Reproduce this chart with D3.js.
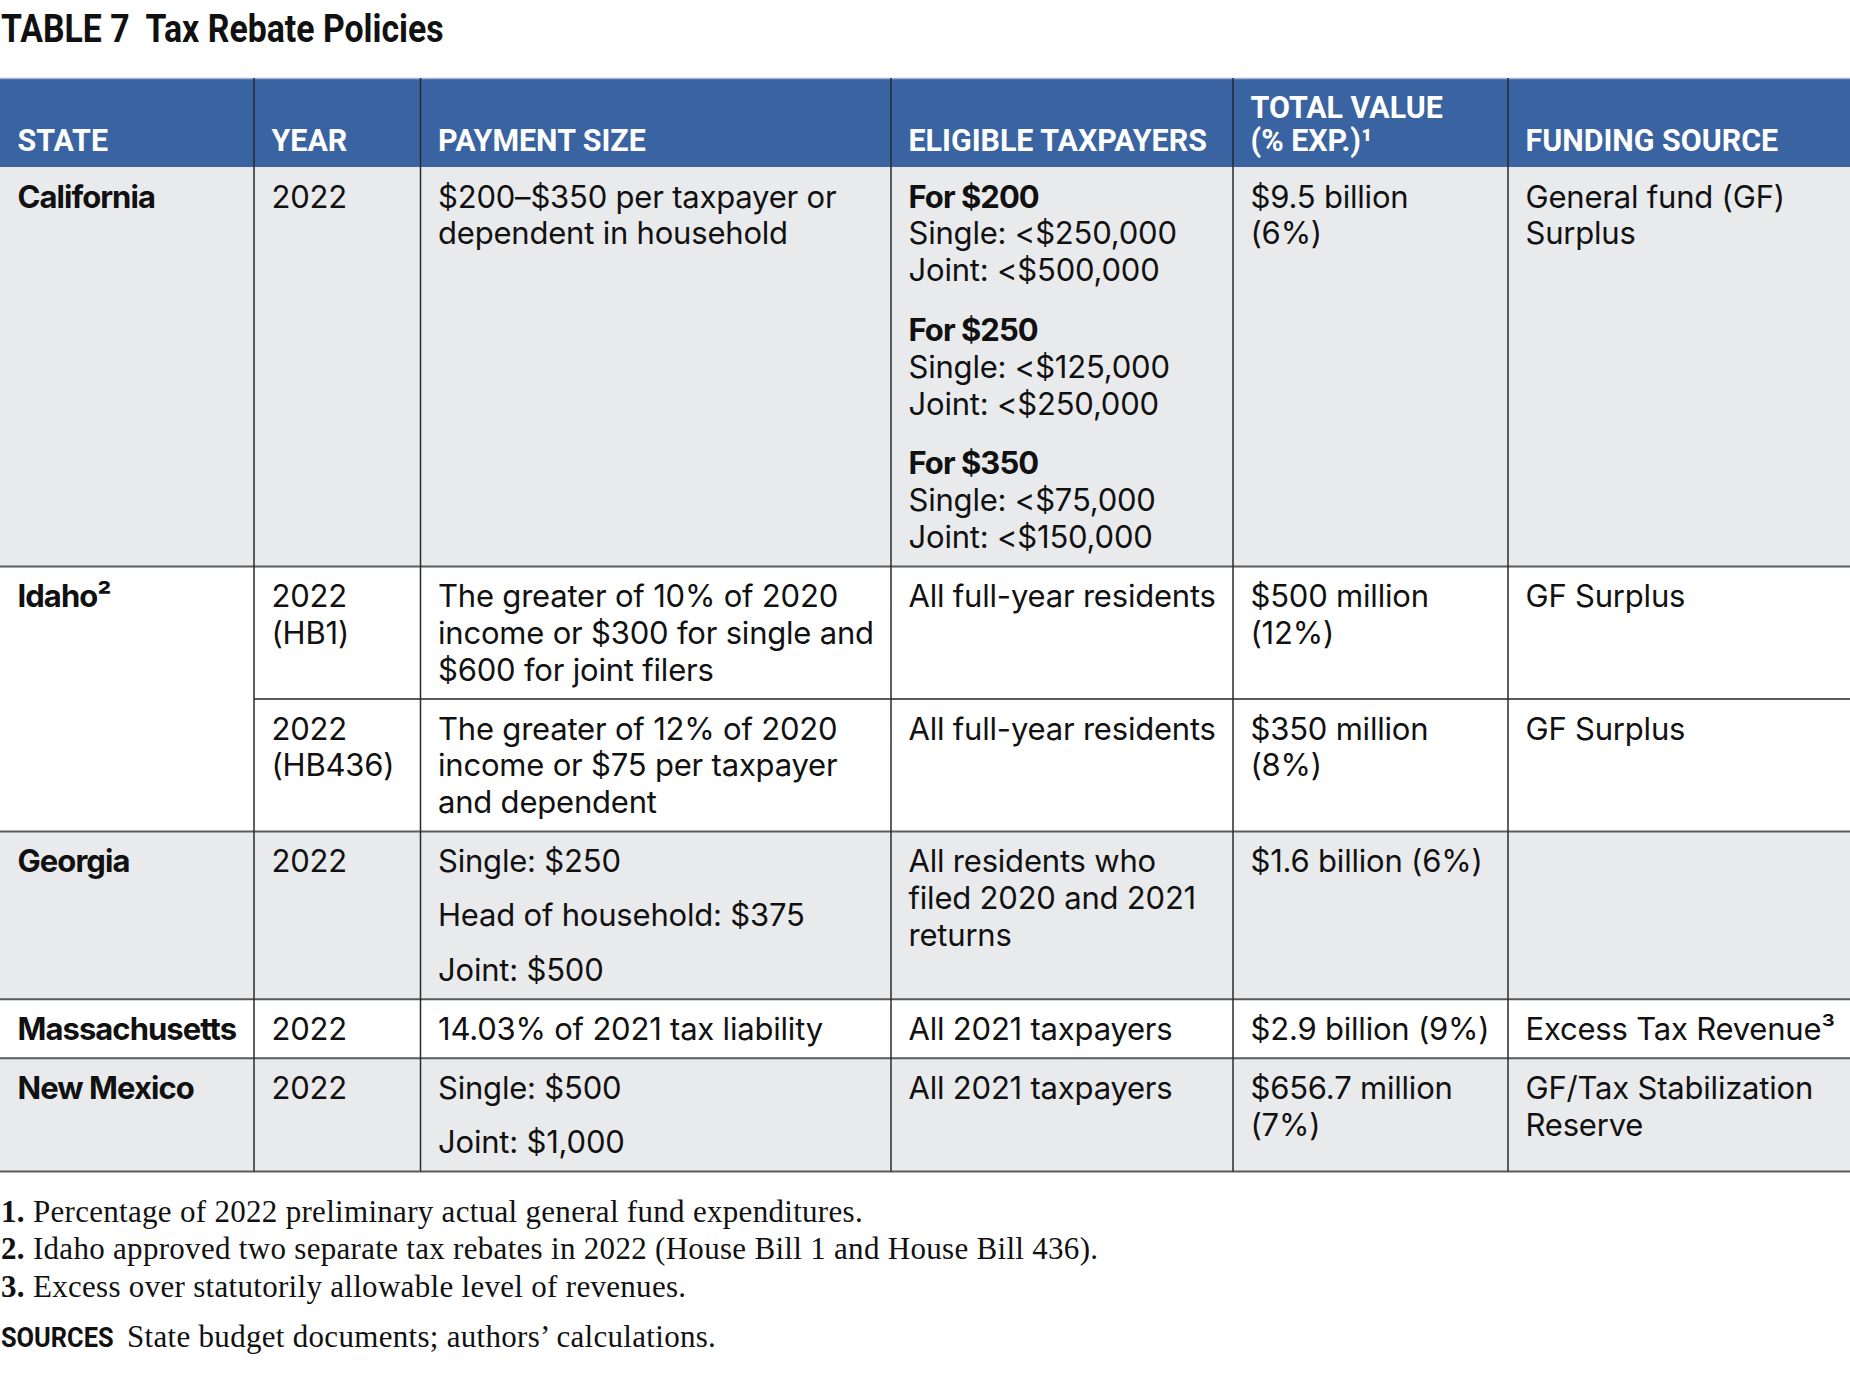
<!DOCTYPE html>
<html><head><meta charset="utf-8">
<script src="https://cdn.jsdelivr.net/npm/d3@7"></script>
<style>
html,body{margin:0;padding:0;background:#fff;}
svg{display:block;}
text{white-space:pre;}
</style></head>
<body><svg id="chart" width="1850" height="1374"></svg>
<script>
// ---------------- DATA ----------------
const titleLabel = "TABLE 7";
const titleText = "Tax Rebate Policies";
const columnKeys = ["state","year","payment","eligible","total","funding"];
const headerLabels = [["STATE"],["YEAR"],["PAYMENT SIZE"],["ELIGIBLE TAXPAYERS"],["TOTAL VALUE","(% EXP.)¹"],["FUNDING SOURCE"]];

// one entry per table sub-row; consecutive equal states are merged
const entryStates = ["California","Idaho²","Idaho²","Georgia","Massachusetts","New Mexico"];
// each cell = list of paragraphs, each paragraph = list of lines ("**" = bold line)
const entryYears = [
  [["2022"]],
  [["2022","(HB1)"]],
  [["2022","(HB436)"]],
  [["2022"]],
  [["2022"]],
  [["2022"]]
];
const entryPayments = [
  [["$200–$350 per taxpayer or","dependent in household"]],
  [["The greater of 10% of 2020","income or $300 for single and","$600 for joint filers"]],
  [["The greater of 12% of 2020","income or $75 per taxpayer","and dependent"]],
  [["Single: $250"],["Head of household: $375"],["Joint: $500"]],
  [["14.03% of 2021 tax liability"]],
  [["Single: $500"],["Joint: $1,000"]]
];
const entryEligible = [
  [["**For $200","Single: <$250,000","Joint: <$500,000"],
   ["**For $250","Single: <$125,000","Joint: <$250,000"],
   ["**For $350","Single: <$75,000","Joint: <$150,000"]],
  [["All full-year residents"]],
  [["All full-year residents"]],
  [["All residents who","filed 2020 and 2021","returns"]],
  [["All 2021 taxpayers"]],
  [["All 2021 taxpayers"]]
];
const entryTotals = [
  [["$9.5 billion","(6%)"]],
  [["$500 million","(12%)"]],
  [["$350 million","(8%)"]],
  [["$1.6 billion (6%)"]],
  [["$2.9 billion (9%)"]],
  [["$656.7 million","(7%)"]]
];
const entryFunding = [
  [["General fund (GF)","Surplus"]],
  [["GF Surplus"]],
  [["GF Surplus"]],
  [],
  [["Excess Tax Revenue³"]],
  [["GF/Tax Stabilization","Reserve"]]
];
const footnoteNumbers = ["1.","2.","3."];
const footnoteTexts = [
  "Percentage of 2022 preliminary actual general fund expenditures.",
  "Idaho approved two separate tax rebates in 2022 (House Bill 1 and House Bill 436).",
  "Excess over statutorily allowable level of revenues."
];
const sourcesLabel = "SOURCES";
const sourcesText = "State budget documents; authors’ calculations.";

// ---------------- LAYOUT / STYLE ----------------
const W = 1850;
const colLefts = [0, 254, 420.5, 891, 1233, 1508];
const PAD_X = 17.5;
const HEADER_TOP = 78, HEADER_BOTTOM = 167;
const LH = 36.8, GAP_SINGLE = 17.5, GAP_BLOCK = 23;
const ROW_TOP = 40.5, ROW_BOTTOM = 18.5;
const BLUE = "#3a63a1", GREY = "#e9eaec";
const BODY_FONT = "Inter, 'Noto Sans', sans-serif";
const COND_FONT = "Roboto, 'Liberation Sans', sans-serif";
const SERIF_FONT = "'Liberation Serif', 'DejaVu Serif', serif";

const svg = d3.select("#chart");
const x = d3.scaleOrdinal().domain(columnKeys).range(colLefts);

const cellCols = {year: entryYears, payment: entryPayments, eligible: entryEligible, total: entryTotals, funding: entryFunding};

function layoutCell(cell) {
  const out = []; let y = 0;
  cell.forEach((p, i) => {
    if (i > 0) y += LH + (cell[i-1].length > 1 ? GAP_BLOCK : GAP_SINGLE);
    p.forEach((line, j) => {
      if (j > 0) y += LH;
      const bold = line.startsWith("**");
      out.push({t: bold ? line.slice(2) : line, y, bold});
    });
  });
  return out;
}

const entries = entryStates.map((s, i) => {
  const cells = {};
  let span = 0;
  Object.keys(cellCols).forEach(k => {
    cells[k] = layoutCell(cellCols[k][i]);
    if (cells[k].length) span = Math.max(span, cells[k][cells[k].length-1].y);
  });
  return {state: s, cells, h: ROW_TOP + span + ROW_BOTTOM};
});
let acc = HEADER_BOTTOM;
entries.forEach(e => { e.top = acc; acc += e.h; e.bottom = acc; });
const tableBottom = acc;
const yRow = d3.scaleOrdinal().domain(d3.range(entries.length)).range(entries.map(e => e.top));

// state groups
const groups = [];
entries.forEach((e, i) => {
  const g = groups[groups.length-1];
  if (g && g.state === e.state) { g.last = i; }
  else groups.push({state: e.state, first: i, last: i});
});

// ---- title
const tt = svg.append("text").attr("transform", "translate(1,42) scale(0.89,1)")
  .attr("font-family", COND_FONT).attr("font-weight", 700).attr("font-size", 38).attr("fill", "#111");
tt.append("tspan").text(titleLabel + "  " + titleText);

// ---- row bands
svg.append("g").selectAll("rect").data(groups).join("rect")
  .attr("x", 0).attr("width", W)
  .attr("y", g => yRow(g.first))
  .attr("height", g => entries[g.last].bottom - yRow(g.first))
  .attr("fill", (g, i) => i % 2 === 0 ? GREY : "#ffffff");

// ---- header
svg.append("rect").attr("x", 0).attr("y", HEADER_TOP).attr("width", W)
  .attr("height", HEADER_BOTTOM - HEADER_TOP).attr("fill", BLUE);
svg.append("line").attr("x1", 0).attr("x2", W).attr("y1", HEADER_TOP + 0.5).attr("y2", HEADER_TOP + 0.5)
  .attr("stroke", "#a3b3cf").attr("stroke-width", 1.5);
const hg = svg.append("g");
headerLabels.forEach((lines, c) => {
  lines.forEach((ln, j) => {
    const yb = HEADER_BOTTOM - 16 - (lines.length - 1 - j) * 33.5;
    hg.append("text")
      .attr("transform", `translate(${x(columnKeys[c]) + PAD_X},${yb}) scale(0.95,1)`)
      .attr("font-family", COND_FONT).attr("font-weight", 700).attr("font-size", 32)
      .attr("fill", "#fff").text(ln);
  });
});

// ---- horizontal rules
svg.append("g").selectAll("line").data(entries).join("line")
  .attr("x1", (e, i) => (i + 1 < entries.length && entries[i+1].state === e.state) ? x("year") : 0)
  .attr("x2", W)
  .attr("y1", e => e.bottom).attr("y2", e => e.bottom)
  .attr("stroke", "#5b5b5b").attr("stroke-width", 2);

// ---- vertical rules
svg.append("g").selectAll("line").data(columnKeys.slice(1)).join("line")
  .attr("x1", k => x(k)).attr("x2", k => x(k))
  .attr("y1", HEADER_TOP).attr("y2", tableBottom)
  .attr("stroke", "#2a2a2a").attr("stroke-width", 1.5);

// ---- cell text
const tg = svg.append("g").attr("font-family", BODY_FONT).attr("font-size", 31).attr("fill", "#111");
function drawLine(xx, yy, t, bold) {
  tg.append("text").attr("x", xx).attr("y", yy)
    .attr("font-weight", bold ? 700 : 400)
    .attr("letter-spacing", bold ? -0.95 : -0.2)
    .text(t);
}
groups.forEach(g => {
  drawLine(x("state") + PAD_X, yRow(g.first) + ROW_TOP, g.state, true);
});
entries.forEach((e, i) => {
  Object.keys(cellCols).forEach(k => {
    e.cells[k].forEach(l => drawLine(x(k) + PAD_X, yRow(i) + ROW_TOP + l.y, l.t, l.bold));
  });
});

// ---- footnotes
const fg = svg.append("g").attr("font-family", SERIF_FONT).attr("font-size", 31)
  .attr("letter-spacing", 0.3).attr("fill", "#111");
footnoteTexts.forEach((t, i) => {
  const tx = fg.append("text").attr("x", 1).attr("y", tableBottom + 50 + i * 37.5);
  tx.append("tspan").attr("font-weight", 700).text(footnoteNumbers[i]);
  tx.append("tspan").text(" " + t);
});
const sy = tableBottom + 50 + 2 * 37.5 + 50;
svg.append("text").attr("transform", `translate(1,${sy}) scale(0.94,1)`)
  .attr("font-family", COND_FONT).attr("font-weight", 700).attr("font-size", 27).attr("fill", "#111")
  .text(sourcesLabel);
fg.append("text").attr("x", 127).attr("y", sy).text(sourcesText);
</script>
</body></html>
